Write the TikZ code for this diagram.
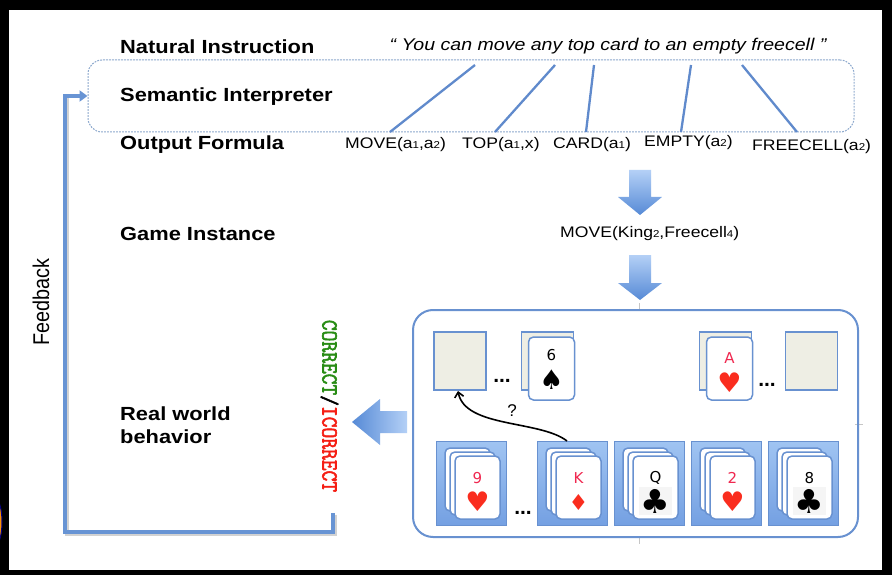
\documentclass[tikz,border=0pt]{standalone}
\usepackage{fontspec}
\setmainfont{Liberation Sans}
\newfontfamily\symfont{DejaVu Sans}
\newfontfamily\verdictfont[FakeBold=2.5]{Latin Modern Mono}
\usetikzlibrary{arrows.meta}

% horizontally widened text
\newcommand\wide[1]{\scalebox{1.15}[1]{#1}}
% small index digit in formulas
\newcommand\idx[1]{{\fontsize{10}{10}\selectfont #1}}

\definecolor{fbblue}{RGB}{104,148,212}
\definecolor{linkblue}{RGB}{96,138,204}
\definecolor{dashblue}{RGB}{140,168,205}
\definecolor{cardblue}{RGB}{104,145,208}
\definecolor{cellfill}{RGB}{238,238,228}
\definecolor{colTop}{RGB}{160,196,242}
\definecolor{colBot}{RGB}{116,160,226}
\definecolor{arrLight}{RGB}{180,208,246}
\definecolor{arrDark}{RGB}{86,138,214}
\definecolor{suitred}{RGB}{250,45,30}
\definecolor{numred}{RGB}{240,40,80}
\definecolor{okgreen}{RGB}{40,140,20}
\definecolor{badred}{RGB}{245,30,20}

\tikzset{
  lbl/.style={anchor=west, inner sep=0pt, font=\fontsize{19}{22}\selectfont\bfseries},
  quotetext/.style={inner sep=0pt, font=\fontsize{17}{20}\selectfont\itshape},
  fml/.style={anchor=west, inner sep=0pt, font=\fontsize{15.3}{18}\selectfont},
  link/.style={draw=linkblue, line width=2.3pt},
  dashbox/.style={draw=dashblue, line width=1pt, dash pattern=on 1.8pt off 1.2pt,
    rounded corners=14pt, inner sep=0pt},
  fbline/.style={draw=fbblue, line width=4pt, line join=miter},
  blockarrow/.style={top color=arrLight, bottom color=arrDark, draw=none},
  cell/.style={draw=cardblue, line width=1.6pt, fill=cellfill, inner sep=0pt,
    minimum width=52pt, minimum height=58pt},
  card/.style={draw=cardblue, line width=1.5pt, fill=white, rounded corners=5pt},
  cardnode/.style={card, inner sep=0pt, minimum width=46pt, minimum height=63pt},
  colbox/.style={top color=colTop, bottom color=colBot, draw=cardblue, line width=1pt},
  rank/.style={inner sep=0pt, font=\symfont\fontsize{15}{16}\selectfont},
  suit/.style={inner sep=0pt, font=\symfont\fontsize{27}{28}\selectfont},
  clubsuit/.style={inner sep=0pt, font=\symfont\fontsize{33}{34}\selectfont},
  dots/.style={inner sep=0pt, font=\fontsize{21}{21}\selectfont\bfseries},
  tick/.style={draw=gray!45, line width=0.6pt}
}

\begin{document}
\begin{tikzpicture}[x=1pt,y=-1pt]
\useasboundingbox (0,0) rectangle (892,575);

% black frame
\fill[black] (0,0) rectangle (892,575);
\fill[white] (9,10) rectangle (882,570);
\begin{scope}
  \clip (0,0) rectangle (892,575);
  \fill[orange!85!yellow, draw=blue!55!black, line width=1pt] (-6,522) ellipse [x radius=8pt, y radius=25pt];
\end{scope}

% row labels
\node[lbl] (natural) at (120,47) {\wide{Natural Instruction}};
\node[lbl] (semantic) at (120,97) {\wide{Semantic Interpreter}};
\node[lbl] (output) at (120,145) {\wide{Output Formula}};
\node[lbl] (game) at (120,234) {\wide{Game Instance}};
\node[lbl, align=left] (real) at (120,425) {\wide{Real world}\\[1pt]\wide{behavior}};

% instruction sentence
\node[quotetext] (quote) at (608,46) {\wide{“ You can move any top card to an empty freecell ”}};

% interpreter frame
\node[dashbox, minimum width=766pt, minimum height=72pt] (interp) at (471,96) {};

% formula predicates
\node[fml] (fmove) at (345,145) {\wide{MOVE(a\idx{1},a\idx{2})}};
\node[fml] (ftop) at (462,145) {\wide{TOP(a\idx{1},x)}};
\node[fml] (fcard) at (553,145) {\wide{CARD(a\idx{1})}};
\node[fml] (fempty) at (644,143) {\wide{EMPTY(a\idx{2})}};
\node[fml] (ffree) at (752,147) {\wide{FREECELL(a\idx{2})}};

% word anchors and predicate anchors
\coordinate (wmove) at (475,65);  \coordinate (pmove) at (390,132);
\coordinate (wtop) at (555,65);   \coordinate (ptop) at (495,132);
\coordinate (wcard) at (594,65);  \coordinate (pcard) at (586,132);
\coordinate (wempty) at (691,65); \coordinate (pempty) at (681,132);
\coordinate (wfree) at (742,65);  \coordinate (pfree) at (797,132);
\draw[link] (wmove) -- (pmove);
\draw[link] (wtop) -- (ptop);
\draw[link] (wcard) -- (pcard);
\draw[link] (wempty) -- (pempty);
\draw[link] (wfree) -- (pfree);

% downward block arrows
\path[blockarrow] (629,170) -- (651,170) -- (651,197) -- (662,197) -- (640,215)
  -- (618,197) -- (629,197) -- cycle;
\node[fml] (inst) at (560,234) {\wide{MOVE(King\idx{2},Freecell\idx{4})}};
\path[blockarrow] (629,255) -- (651,255) -- (651,283) -- (662,283) -- (640,300)
  -- (618,283) -- (629,283) -- cycle;

% game board
\draw[tick] (639,303) -- (639,310);
\draw[tick] (855,424) -- (863,424);
\draw[tick] (639,537) -- (639,544);
\draw[draw=cardblue, line width=2pt, rounded corners=20pt] (413,310) rectangle (858,537);

% free cells and foundations
\node[cell] (fc1) at (460,361) {};
\node[dots] (dots1) at (502,381) {...};
\node[cell] (fc2) at (547.5,361) {};
\node[cardnode] (six) at (551.5,368.5) {};
\node[rank] at (551.5,355) {6};
\node[suit] at (551.5,380) {♠};
\node[cell] (fd1) at (725.5,361) {};
\node[cardnode] (ace) at (729.5,368.5) {};
\node[rank, text=numred] at (729.5,358) {A};
\node[suit, text=suitred] at (729.5,383) {♥};
\node[dots] (dots2) at (767,385) {...};
\node[cell] (fc4) at (811.5,361) {};

% tableau columns
\foreach \L/\n/\nc [count=\i] in
  {436/9/numred, 537/K/numred, 614/Q/black, 691/2/numred, 768/8/black} {
  \path[colbox] (\L,441) rectangle (\L+70,525);
  \draw[card] (\L+9,448) rectangle (\L+54,511);
  \draw[card] (\L+14,452) rectangle (\L+59,515);
  \draw[card] (\L+19,456) rectangle (\L+64,519);
  \node[rank, text=\nc] (rank\i) at (\L+41.5,478) {\n};
}
\fill[gray!8] (639,487) rectangle (672,515);
\fill[gray!8] (793,487) rectangle (826,515);
\node[suit, text=suitred] (suit1) at (477.5,502) {♥};
\node[suit, text=suitred, font=\symfont\fontsize{22}{24}\selectfont] (suit2) at (578.5,502) {♦};
\node[clubsuit] (suit3) at (655.5,501) {♣};
\node[suit, text=suitred] (suit4) at (732.5,502) {♥};
\node[clubsuit] (suit5) at (809.5,501) {♣};
\node[dots] (dots3) at (523,513) {...};

% attempted move
\coordinate (movefrom) at (567,441);
\coordinate (moveto) at (458,391);
\draw[line width=1.6pt, -{Straight Barb[length=5pt,width=9pt]}]
  (movefrom) .. controls (540,420) and (465,428) .. (moveto);
\node[inner sep=0pt, font=\fontsize{17}{18}\selectfont] (ask) at (512,411) {?};

% verdict arrow and label
\path[left color=arrDark, right color=arrLight]
  (352,422) -- (380,399) -- (380,411) -- (407,411) -- (407,433) -- (380,433)
  -- (380,445) -- cycle;
\node[rotate=-90, inner sep=0pt, font=\verdictfont\fontsize{20.9}{22}\selectfont]
  (verdict) at (329.5,406) {\scalebox{1}[1.1]{\textcolor{okgreen}{CORRECT}/\textcolor{badred}{ICORRECT}}};

% feedback loop
\coordinate (fbstart) at (333,513);
\draw[draw=gray!35, line width=4pt] ([shift={(1.5,1.5)}]fbstart) -- (334.5,533.5) -- (66.5,533.5) -- (66.5,96.5);
\draw[fbline, -{Triangle[length=8pt,width=11pt]}] (fbstart) -- (333,532) -- (65,532) -- (65,96) -- (interp.west);
\node[rotate=90, inner sep=0pt, font=\fontsize{19.8}{22}\selectfont] (feedback) at (41,302) {\scalebox{1}[1.15]{Feedback}};
\end{tikzpicture}
\end{document}
